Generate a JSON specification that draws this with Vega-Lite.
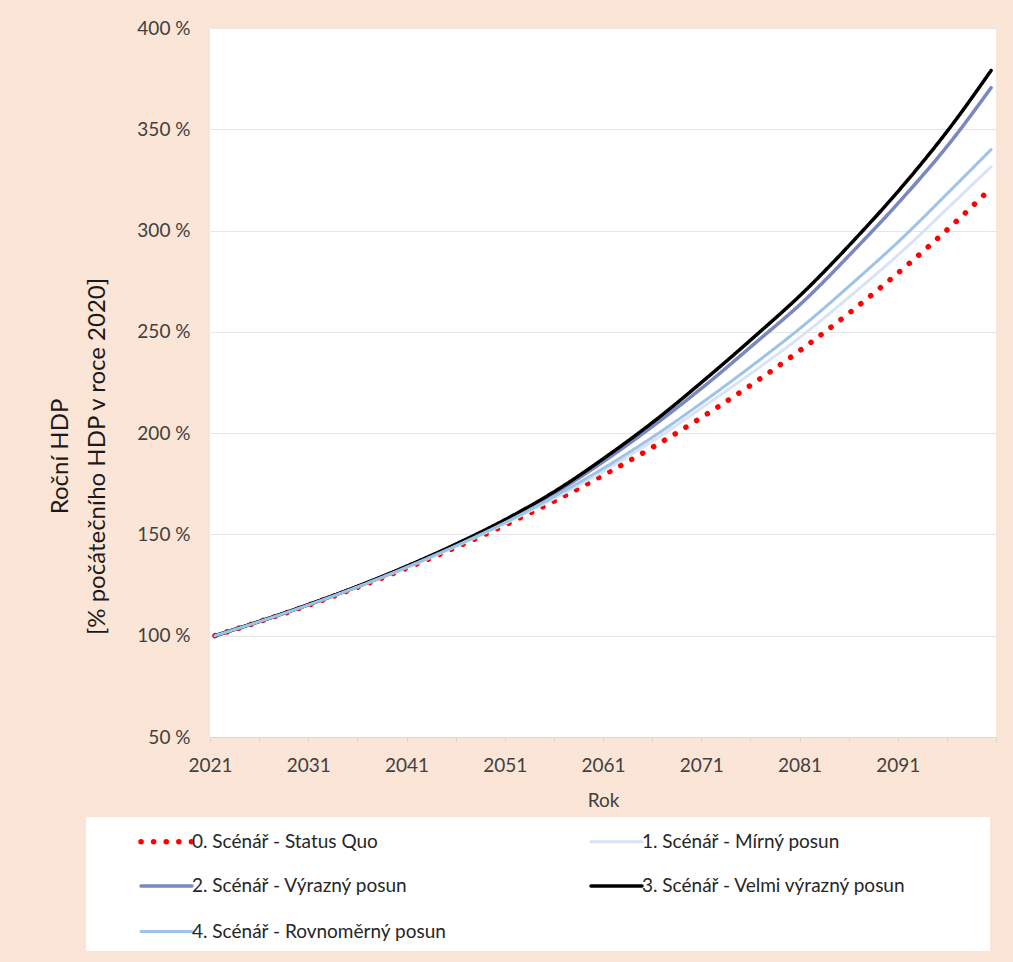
{
  "$schema": "https://vega.github.io/schema/vega-lite/v6.json",
  "width": 786,
  "height": 709,
  "autosize": "none",
  "padding": {"left": 210, "top": 28, "right": 17, "bottom": 225},
  "background": "#fbe5d6",
  "config": {"view": {"fill": "white", "stroke": null}, "font": "Lato"},
  "datasets": {
    "hdp": [
      {"rok": 2021, "s": "0. Scénář - Status Quo", "v": 100},
      {"rok": 2026, "s": "0. Scénář - Status Quo", "v": 107.7},
      {"rok": 2031, "s": "0. Scénář - Status Quo", "v": 115.9},
      {"rok": 2036, "s": "0. Scénář - Status Quo", "v": 124.8},
      {"rok": 2041, "s": "0. Scénář - Status Quo", "v": 134.3},
      {"rok": 2046, "s": "0. Scénář - Status Quo", "v": 144.6},
      {"rok": 2051, "s": "0. Scénář - Status Quo", "v": 155.7},
      {"rok": 2056, "s": "0. Scénář - Status Quo", "v": 167.6},
      {"rok": 2061, "s": "0. Scénář - Status Quo", "v": 180.5},
      {"rok": 2066, "s": "0. Scénář - Status Quo", "v": 194.3},
      {"rok": 2071, "s": "0. Scénář - Status Quo", "v": 209.2},
      {"rok": 2076, "s": "0. Scénář - Status Quo", "v": 225.2},
      {"rok": 2081, "s": "0. Scénář - Status Quo", "v": 242.4},
      {"rok": 2086, "s": "0. Scénář - Status Quo", "v": 261.0},
      {"rok": 2091, "s": "0. Scénář - Status Quo", "v": 281.0},
      {"rok": 2096, "s": "0. Scénář - Status Quo", "v": 302.5},
      {"rok": 2100, "s": "0. Scénář - Status Quo", "v": 320.9},
      {"rok": 2021, "s": "1. Scénář - Mírný posun", "v": 100},
      {"rok": 2026, "s": "1. Scénář - Mírný posun", "v": 107.7},
      {"rok": 2031, "s": "1. Scénář - Mírný posun", "v": 116.0},
      {"rok": 2036, "s": "1. Scénář - Mírný posun", "v": 124.9},
      {"rok": 2041, "s": "1. Scénář - Mírný posun", "v": 134.6},
      {"rok": 2046, "s": "1. Scénář - Mírný posun", "v": 145.1},
      {"rok": 2051, "s": "1. Scénář - Mírný posun", "v": 156.5},
      {"rok": 2056, "s": "1. Scénář - Mírný posun", "v": 169.0},
      {"rok": 2061, "s": "1. Scénář - Mírný posun", "v": 182.5},
      {"rok": 2066, "s": "1. Scénář - Mírný posun", "v": 197.5},
      {"rok": 2071, "s": "1. Scénář - Mírný posun", "v": 214.0},
      {"rok": 2076, "s": "1. Scénář - Mírný posun", "v": 231.0},
      {"rok": 2081, "s": "1. Scénář - Mírný posun", "v": 249.0},
      {"rok": 2086, "s": "1. Scénář - Mírný posun", "v": 269.0},
      {"rok": 2091, "s": "1. Scénář - Mírný posun", "v": 290.0},
      {"rok": 2096, "s": "1. Scénář - Mírný posun", "v": 313.0},
      {"rok": 2100, "s": "1. Scénář - Mírný posun", "v": 331.5},
      {"rok": 2021, "s": "2. Scénář - Výrazný posun", "v": 100},
      {"rok": 2026, "s": "2. Scénář - Výrazný posun", "v": 107.8},
      {"rok": 2031, "s": "2. Scénář - Výrazný posun", "v": 116.1},
      {"rok": 2036, "s": "2. Scénář - Výrazný posun", "v": 125.2},
      {"rok": 2041, "s": "2. Scénář - Výrazný posun", "v": 135.1},
      {"rok": 2046, "s": "2. Scénář - Výrazný posun", "v": 146.0},
      {"rok": 2051, "s": "2. Scénář - Výrazný posun", "v": 158.0},
      {"rok": 2056, "s": "2. Scénář - Výrazný posun", "v": 171.6},
      {"rok": 2061, "s": "2. Scénář - Výrazný posun", "v": 187.5},
      {"rok": 2066, "s": "2. Scénář - Výrazný posun", "v": 205.0},
      {"rok": 2071, "s": "2. Scénář - Výrazný posun", "v": 224.0},
      {"rok": 2076, "s": "2. Scénář - Výrazný posun", "v": 244.5},
      {"rok": 2081, "s": "2. Scénář - Výrazný posun", "v": 265.5},
      {"rok": 2086, "s": "2. Scénář - Výrazný posun", "v": 290.0},
      {"rok": 2091, "s": "2. Scénář - Výrazný posun", "v": 316.0},
      {"rok": 2096, "s": "2. Scénář - Výrazný posun", "v": 344.5},
      {"rok": 2100, "s": "2. Scénář - Výrazný posun", "v": 370.5},
      {"rok": 2021, "s": "3. Scénář - Velmi výrazný posun", "v": 100},
      {"rok": 2026, "s": "3. Scénář - Velmi výrazný posun", "v": 107.8},
      {"rok": 2031, "s": "3. Scénář - Velmi výrazný posun", "v": 116.2},
      {"rok": 2036, "s": "3. Scénář - Velmi výrazný posun", "v": 125.3},
      {"rok": 2041, "s": "3. Scénář - Velmi výrazný posun", "v": 135.3},
      {"rok": 2046, "s": "3. Scénář - Velmi výrazný posun", "v": 146.3},
      {"rok": 2051, "s": "3. Scénář - Velmi výrazný posun", "v": 158.5},
      {"rok": 2056, "s": "3. Scénář - Velmi výrazný posun", "v": 172.5},
      {"rok": 2061, "s": "3. Scénář - Velmi výrazný posun", "v": 189.0},
      {"rok": 2066, "s": "3. Scénář - Velmi výrazný posun", "v": 207.0},
      {"rok": 2071, "s": "3. Scénář - Velmi výrazný posun", "v": 227.0},
      {"rok": 2076, "s": "3. Scénář - Velmi výrazný posun", "v": 248.0},
      {"rok": 2081, "s": "3. Scénář - Velmi výrazný posun", "v": 270.0},
      {"rok": 2086, "s": "3. Scénář - Velmi výrazný posun", "v": 295.0},
      {"rok": 2091, "s": "3. Scénář - Velmi výrazný posun", "v": 322.0},
      {"rok": 2096, "s": "3. Scénář - Velmi výrazný posun", "v": 352.0},
      {"rok": 2100, "s": "3. Scénář - Velmi výrazný posun", "v": 379.0},
      {"rok": 2021, "s": "4. Scénář - Rovnoměrný posun", "v": 100},
      {"rok": 2026, "s": "4. Scénář - Rovnoměrný posun", "v": 107.7},
      {"rok": 2031, "s": "4. Scénář - Rovnoměrný posun", "v": 116.0},
      {"rok": 2036, "s": "4. Scénář - Rovnoměrný posun", "v": 125.0},
      {"rok": 2041, "s": "4. Scénář - Rovnoměrný posun", "v": 134.8},
      {"rok": 2046, "s": "4. Scénář - Rovnoměrný posun", "v": 145.4},
      {"rok": 2051, "s": "4. Scénář - Rovnoměrný posun", "v": 157.0},
      {"rok": 2056, "s": "4. Scénář - Rovnoměrný posun", "v": 170.0},
      {"rok": 2061, "s": "4. Scénář - Rovnoměrný posun", "v": 184.0},
      {"rok": 2066, "s": "4. Scénář - Rovnoměrný posun", "v": 199.5},
      {"rok": 2071, "s": "4. Scénář - Rovnoměrný posun", "v": 216.5},
      {"rok": 2076, "s": "4. Scénář - Rovnoměrný posun", "v": 234.5},
      {"rok": 2081, "s": "4. Scénář - Rovnoměrný posun", "v": 253.5},
      {"rok": 2086, "s": "4. Scénář - Rovnoměrný posun", "v": 274.5},
      {"rok": 2091, "s": "4. Scénář - Rovnoměrný posun", "v": 296.5},
      {"rok": 2096, "s": "4. Scénář - Rovnoměrný posun", "v": 320.5},
      {"rok": 2100, "s": "4. Scénář - Rovnoměrný posun", "v": 340.0}
    ]
  },
  "data": {"name": "hdp"},
  "mark": {"type": "line", "strokeCap": "round", "strokeJoin": "round", "interpolate": "monotone"},
  "encoding": {
    "x": {
      "field": "rok", "type": "quantitative",
      "scale": {"domain": [2020.5, 2100.5], "nice": false, "zero": false},
      "axis": {
        "values": [2020.5, 2025.5, 2030.5, 2035.5, 2040.5, 2045.5, 2050.5, 2055.5, 2060.5, 2065.5, 2070.5, 2075.5, 2080.5, 2085.5, 2090.5, 2095.5, 2100.5],
        "labelExpr": "(datum.value - 2020.5) % 10 == 0 && datum.value < 2100 ? '' + (datum.value + 0.5) : ''",
        "labelDx": 4.9,
        "labelFlush": false,
        "labelOverlap": false,
        "grid": false,
        "domainColor": "#d9d9d9",
        "tickColor": "#d9d9d9",
        "tickSize": 5,
        "labelFontSize": 19,
        "labelColor": "#404040",
        "labelPadding": 14,
        "title": "Rok",
        "titleFontSize": 19,
        "titleFontWeight": "normal",
        "titleColor": "#404040",
        "titlePadding": 16
      }
    },
    "y": {
      "field": "v", "type": "quantitative",
      "scale": {"domain": [50, 400], "nice": false, "zero": false},
      "axis": {
        "values": [50, 100, 150, 200, 250, 300, 350, 400],
        "labelExpr": "datum.value + ' %'",
        "domain": false,
        "ticks": false,
        "tickSize": 0,
        "gridColor": "#e6e6e6",
        "gridWidth": 1,
        "labelFontSize": 19,
        "labelColor": "#404040",
        "labelPadding": 20,
        "title": ["Roční HDP", "[% počátečního HDP v roce 2020]"],
        "titleFontSize": 24,
        "titleFontWeight": "normal",
        "titleColor": "#1a1a1a",
        "titleLineHeight": 37,
        "titleAlign": "center",
        "titleBaseline": "middle",
        "titleAngle": -90,
        "titleX": -150,
        "titleY": 428
      }
    },
    "color": {
      "field": "s", "type": "nominal",
      "scale": {
        "domain": ["0. Scénář - Status Quo", "1. Scénář - Mírný posun", "2. Scénář - Výrazný posun", "3. Scénář - Velmi výrazný posun", "4. Scénář - Rovnoměrný posun"],
        "range": ["#ff0000", "#dae3f3", "#7a88c0", "#000000", "#9dc3e6"]
      },
      "legend": {
        "title": " ",
        "titleOrient": "right",
        "titlePadding": 74,
        "orient": "none",
        "direction": "horizontal",
        "legendX": -124,
        "legendY": 789,
        "columns": 2,
        "gridAlign": "all",
        "fillColor": "white",
        "padding": 9,
        "symbolType": "M-2,0L2,0",
        "symbolSize": 650,
        "symbolOffset": 56,
        "labelOffset": 10,
        "labelFontSize": 19,
        "labelColor": "#262626",
        "labelLimit": 400,
        "columnPadding": 88,
        "rowPadding": 18.5,
        "encode": {
          "symbols": {"update": {"strokeCap": {"value": "round"}, "fill": {"value": "transparent"}}}
        }
      }
    },
    "strokeDash": {
      "field": "s", "type": "nominal",
      "scale": {
        "domain": ["0. Scénář - Status Quo", "1. Scénář - Mírný posun", "2. Scénář - Výrazný posun", "3. Scénář - Velmi výrazný posun", "4. Scénář - Rovnoměrný posun"],
        "range": [[0.1, 12.5], [1, 0], [1, 0], [1, 0], [1, 0]]
      }
    },
    "strokeWidth": {
      "field": "s", "type": "nominal",
      "scale": {
        "type": "ordinal",
        "domain": ["0. Scénář - Status Quo", "1. Scénář - Mírný posun", "2. Scénář - Výrazný posun", "3. Scénář - Velmi výrazný posun", "4. Scénář - Rovnoměrný posun"],
        "range": [5.5, 3, 3.5, 3.5, 3]
      }
    }
  }
}
